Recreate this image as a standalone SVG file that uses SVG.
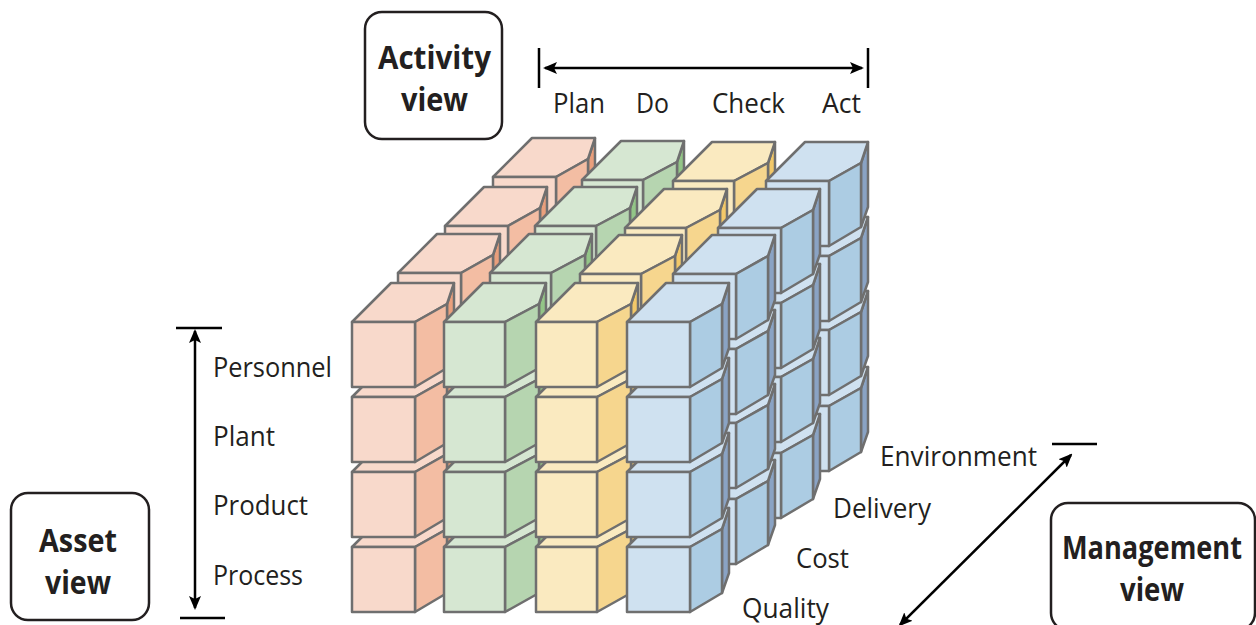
<svg xmlns="http://www.w3.org/2000/svg" width="1256" height="625" viewBox="0 0 1256 625">
<style>
text{font-family:"Open Sans","Noto Sans","Liberation Sans",sans-serif;fill:#231f20}
.l{font-size:27.500px}
.b{font-size:33px;font-weight:700;text-anchor:middle}
.box{fill:#fff;stroke:#231f20;stroke-width:2.5}
.ln{fill:none;stroke:#000;stroke-width:2.5}
.pc polygon{stroke:#6f6f6f;stroke-width:2.5;stroke-linejoin:round}
.t{fill:var(--t)}.s{fill:var(--s)}.n{fill:var(--n)}
.p{--t:#f8d9cb;--s:#f3bda3;--n:#e99f7c}
.g{--t:#d6e7d2;--s:#b6d5b0;--n:#93c587}
.y{--t:#faeac0;--s:#f6d68e;--n:#f2c869}
.u{--t:#cfe1f0;--s:#accce3;--n:#8aa3c4}
</style>
<defs>
<marker id="ah" viewBox="0 0 14 12" refX="12" refY="6" markerWidth="14" markerHeight="12" markerUnits="userSpaceOnUse" orient="auto-start-reverse"><path d="M0 0L14 6L0 12L3 6Z" fill="#000"/></marker>
<g id="cube" class="pc">
<polygon class="n" points="95,-18 102,-39 102,26 95,46"/>
<polygon class="t" points="0,0 39,-39 102,-39 95,-18 63,0"/>
<polygon class="s" points="63,0 95,-18 95,46 63,65"/>
<polygon class="t" points="0,0 63,0 63,65 0,65"/>
</g>
<g id="cube2" class="pc">
<polygon class="n" points="95,-18 102,-39 102,26 95,46"/>
<polygon class="t" points="0,0 39,-39 102,-39 95,-18 61,0"/>
<polygon class="s" points="61,0 95,-18 95,46 61,65"/>
<polygon class="t" points="0,0 61,0 61,65 0,65"/>
</g>
</defs>
<g id="cubes">
<g id="layer-3">
<g class="p" id="c-p3"><use href="#cube" x="493" y="402"/><use href="#cube" x="493" y="326"/><use href="#cube" x="493" y="252"/><use href="#cube" x="493" y="177"/></g>
<g class="g" id="c-g3"><use href="#cube2" x="582" y="405"/><use href="#cube2" x="582" y="329"/><use href="#cube2" x="582" y="255"/><use href="#cube2" x="582" y="180"/></g>
<g class="y" id="c-y3"><use href="#cube2" x="673" y="406"/><use href="#cube2" x="673" y="330"/><use href="#cube2" x="673" y="256"/><use href="#cube2" x="673" y="181"/></g>
<g class="u" id="c-u3"><use href="#cube" x="766" y="406"/><use href="#cube" x="766" y="330"/><use href="#cube" x="766" y="256"/><use href="#cube" x="766" y="181"/></g>
</g>
<g id="layer-2">
<g class="p" id="c-p2"><use href="#cube" x="445" y="451"/><use href="#cube" x="445" y="375"/><use href="#cube" x="445" y="301"/><use href="#cube" x="445" y="226"/></g>
<g class="g" id="c-g2"><use href="#cube2" x="535" y="451"/><use href="#cube2" x="535" y="375"/><use href="#cube2" x="535" y="301"/><use href="#cube2" x="535" y="226"/></g>
<g class="y" id="c-y2"><use href="#cube2" x="625" y="453"/><use href="#cube2" x="625" y="377"/><use href="#cube2" x="625" y="303"/><use href="#cube2" x="625" y="228"/></g>
<g class="u" id="c-u2"><use href="#cube" x="718" y="453"/><use href="#cube" x="718" y="377"/><use href="#cube" x="718" y="303"/><use href="#cube" x="718" y="228"/></g>
</g>
<g id="layer-1">
<g class="p" id="c-p1"><use href="#cube" x="398" y="498"/><use href="#cube" x="398" y="422"/><use href="#cube" x="398" y="348"/><use href="#cube" x="398" y="273"/></g>
<g class="g" id="c-g1"><use href="#cube2" x="490" y="498"/><use href="#cube2" x="490" y="422"/><use href="#cube2" x="490" y="348"/><use href="#cube2" x="490" y="273"/></g>
<g class="y" id="c-y1"><use href="#cube2" x="580" y="499"/><use href="#cube2" x="580" y="423"/><use href="#cube2" x="580" y="349"/><use href="#cube2" x="580" y="274"/></g>
<g class="u" id="c-u1"><use href="#cube" x="673" y="499"/><use href="#cube" x="673" y="423"/><use href="#cube" x="673" y="349"/><use href="#cube" x="673" y="274"/></g>
</g>
<g id="layer-0">
<g class="p" id="c-p0"><use href="#cube" x="352" y="547"/><use href="#cube" x="352" y="472"/><use href="#cube" x="352" y="397"/><use href="#cube" x="352" y="322"/></g>
<g class="g" id="c-g0"><use href="#cube2" x="444" y="547"/><use href="#cube2" x="444" y="472"/><use href="#cube2" x="444" y="397"/><use href="#cube2" x="444" y="322"/></g>
<g class="y" id="c-y0"><use href="#cube2" x="536" y="547"/><use href="#cube2" x="536" y="472"/><use href="#cube2" x="536" y="397"/><use href="#cube2" x="536" y="322"/></g>
<g class="u" id="c-u0"><use href="#cube" x="627" y="547"/><use href="#cube" x="627" y="472"/><use href="#cube" x="627" y="397"/><use href="#cube" x="627" y="322"/></g>
</g>
</g>
<g id="connectors">
<path class="ln" d="M539 48V88M868 48V88"/>
<path class="ln" d="M545 68H862" marker-start="url(#ah)" marker-end="url(#ah)"/>
<path class="ln" d="M176 328H222M180 618H225"/>
<path class="ln" d="M195 331V608" marker-start="url(#ah)" marker-end="url(#ah)"/>
<path class="ln" d="M1052 444H1097"/>
<path class="ln" d="M1071 455L900 625" marker-start="url(#ah)" marker-end="url(#ah)"/>
</g>
<g id="activity-view"><rect class="box" x="365" y="12" width="137" height="127" rx="17"/><text class="b" x="434.500" y="69" textLength="113" lengthAdjust="spacingAndGlyphs">Activity</text><text class="b" x="434.500" y="111" textLength="67" lengthAdjust="spacingAndGlyphs">view</text></g>
<g id="asset-view"><rect class="box" x="11" y="493" width="138" height="127" rx="17"/><text class="b" x="78" y="552" textLength="78" lengthAdjust="spacingAndGlyphs">Asset</text><text class="b" x="78" y="594" textLength="66" lengthAdjust="spacingAndGlyphs">view</text></g>
<g id="management-view"><rect class="box" x="1051" y="503" width="204" height="127" rx="17"/><text class="b" x="1152" y="559" textLength="180" lengthAdjust="spacingAndGlyphs">Management</text><text class="b" x="1152" y="601" textLength="64" lengthAdjust="spacingAndGlyphs">view</text></g>
<g id="activity-labels">
<text class="l" x="553" y="113" textLength="52" lengthAdjust="spacingAndGlyphs">Plan</text>
<text class="l" x="636" y="113" textLength="33" lengthAdjust="spacingAndGlyphs">Do</text>
<text class="l" x="712" y="113" textLength="73" lengthAdjust="spacingAndGlyphs">Check</text>
<text class="l" x="822" y="113" textLength="39" lengthAdjust="spacingAndGlyphs">Act</text>
</g>
<g id="asset-labels">
<text class="l" x="213" y="377" textLength="119" lengthAdjust="spacingAndGlyphs">Personnel</text>
<text class="l" x="213" y="446" textLength="62" lengthAdjust="spacingAndGlyphs">Plant</text>
<text class="l" x="213" y="515" textLength="95" lengthAdjust="spacingAndGlyphs">Product</text>
<text class="l" x="213" y="585" textLength="90" lengthAdjust="spacingAndGlyphs">Process</text>
</g>
<g id="management-labels">
<text class="l" x="880" y="466" textLength="157" lengthAdjust="spacingAndGlyphs">Environment</text>
<text class="l" x="833" y="518" textLength="98" lengthAdjust="spacingAndGlyphs">Delivery</text>
<text class="l" x="796" y="568" textLength="53" lengthAdjust="spacingAndGlyphs">Cost</text>
<text class="l" x="742" y="618" textLength="87" lengthAdjust="spacingAndGlyphs">Quality</text>
</g>
</svg>
